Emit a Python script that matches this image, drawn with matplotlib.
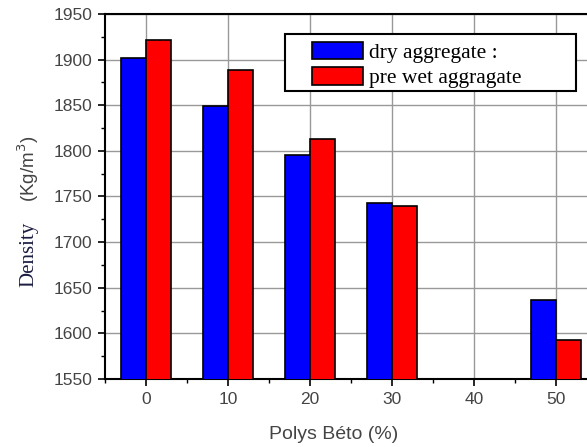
import numpy as np
import matplotlib.pyplot as plt
from matplotlib.patches import Rectangle
from matplotlib.ticker import MultipleLocator

# Polys Béto content (%) and measured densities (kg/m3)
polys = np.array([0, 10, 20, 30, 50])
dry_aggregate = np.array([1902, 1849, 1795, 1743, 1637])
pre_wet_aggregate = np.array([1921, 1888, 1813, 1739, 1593])

bar_w = 3
plt.rcParams['font.family'] = 'Liberation Sans'

fig = plt.figure(figsize=(5.87, 4.47), dpi=100)
ax = fig.add_axes([0.179, 0.152, 0.838, 0.817])

ax.bar(polys - bar_w / 2, dry_aggregate, width=bar_w, color='#0000ff',
       edgecolor='black', linewidth=1.2, label='dry aggregate :', zorder=3)
ax.bar(polys + bar_w / 2, pre_wet_aggregate, width=bar_w, color='#ff0000',
       edgecolor='black', linewidth=1.2, label='pre wet aggragate', zorder=3)

ax.set_xlim(-5, 55)
ax.set_ylim(1550, 1950)
ax.xaxis.set_major_locator(MultipleLocator(10))
ax.xaxis.set_minor_locator(MultipleLocator(5))
ax.yaxis.set_major_locator(MultipleLocator(50))
ax.yaxis.set_minor_locator(MultipleLocator(25))

ax.grid(True, which='major', color='#999999', linewidth=1.0, zorder=0)
ax.set_axisbelow(True)

for s in ax.spines.values():
    s.set_linewidth(1.5)
ax.tick_params(which='major', direction='out', length=5, width=1.2,
               labelsize=12.5, labelcolor='#444444', pad=4)
ax.tick_params(which='minor', direction='out', length=3, width=1.0)

ax.set_xlabel('Polys Béto (%)', fontsize=14, color='#444444', va='center')
ax.xaxis.set_label_coords(0.465, -0.153)

# y label: serif word and sans-serif units
fig.text(0.049, 0.432, 'Density', rotation=90, family='Liberation Serif',
         fontsize=15, color='#1c1c40', ha='center', va='center')
fig.text(0.048, 0.622, '(Kg/m$^3$)', rotation=90, family='Liberation Sans',
         fontsize=13.5, color='#444444', ha='center', va='center')

# legend frame drawn separately so it can be wider than its entries
ax.add_patch(Rectangle((0.366, 0.789), 0.591, 0.156, transform=ax.transAxes,
                       facecolor='white', edgecolor='black', linewidth=1.5,
                       zorder=4))
leg = ax.legend(loc='upper left', bbox_to_anchor=(0.421, 0.924),
                prop={'family': 'Liberation Serif', 'size': 15.5},
                frameon=False, handlelength=2.37, handleheight=0.9,
                labelspacing=0.17, borderpad=0, handletextpad=0.28,
                borderaxespad=0)
leg.set_zorder(5)

fig.savefig('out.png', dpi=100)
